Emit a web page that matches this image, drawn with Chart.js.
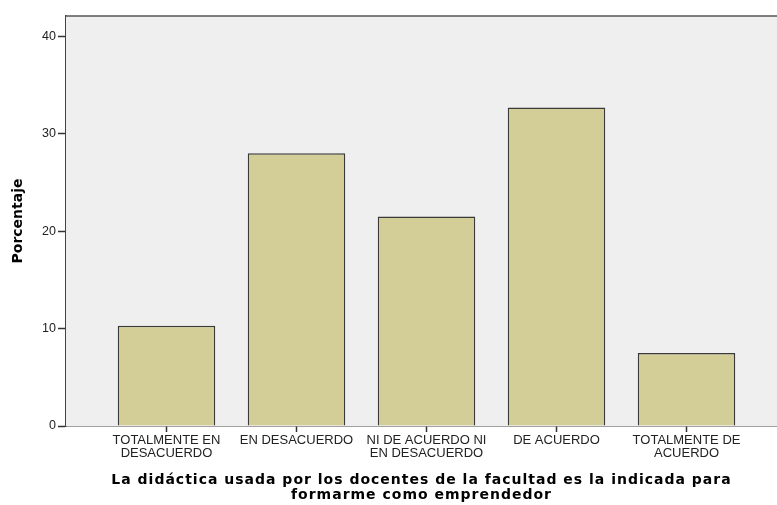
<!DOCTYPE html>
<html>
<head>
<meta charset="utf-8">
<script src="https://cdn.jsdelivr.net/npm/chart.js@4"></script>
<style>
  body { margin: 0; background: #fff; }
  #chart { display: block; }
</style>
</head>
<body>
<canvas id="chart" width="777" height="505"></canvas>
<script>
const categories = [
  ["TOTALMENTE EN", "DESACUERDO"],
  ["EN DESACUERDO"],
  ["NI DE ACUERDO NI", "EN DESACUERDO"],
  ["DE ACUERDO"],
  ["TOTALMENTE DE", "ACUERDO"]
];
const percentages = [10.3, 28.0, 21.5, 32.7, 7.5];
const yTicks = [0, 10, 20, 30, 40];
const xTitle = ["La didáctica usada por los docentes de la facultad es la indicada para", "formarme como emprendedor"];
const yTitle = "Porcentaje";

// plot background + top frame line
const frame = {
  id: "frame",
  beforeDatasetsDraw(chart) {
    const { ctx, chartArea: a } = chart;
    ctx.save();
    ctx.fillStyle = "#efefef";
    ctx.fillRect(a.left, a.top, a.right - a.left, a.bottom - a.top);
    ctx.strokeStyle = "#555";
    ctx.lineWidth = 1.5;
    ctx.beginPath();
    ctx.moveTo(a.left, a.top);
    ctx.lineTo(a.right, a.top);
    ctx.stroke();
    ctx.restore();
  }
};

// the x title in the original is letter-spaced
function spacedTitle(scale) {
  if (scale._spaced) return;
  const orig = scale.drawTitle.bind(scale);
  scale.drawTitle = function () {
    scale.ctx.save();
    scale.ctx.letterSpacing = "1px";
    orig();
    scale.ctx.restore();
  };
  scale._spaced = true;
}

new Chart(document.getElementById("chart"), {
  type: "bar",
  data: {
    datasets: [{
      data: percentages.map((v, i) => ({ x: i, y: v })),
      backgroundColor: "#d3ce97",
      borderColor: "#3a3a3a",
      borderWidth: 1.5,
      barPercentage: 0.75,
      categoryPercentage: 1
    }]
  },
  options: {
    responsive: false,
    animation: false,
    layout: { padding: { top: 16, left: 0, right: 0, bottom: 0 } },
    plugins: { legend: { display: false }, tooltip: { enabled: false } },
    scales: {
      x: {
        type: "linear",
        offset: false,
        min: -0.773,
        max: 4.696,
        afterBuildTicks: (s) => { s.ticks = categories.map((c, i) => ({ value: i })); },
        afterFit: (s) => { s.height = 79; },
        afterUpdate: spacedTitle,
        grid: { offset: false, drawOnChartArea: false, drawTicks: true, tickLength: 6, tickColor: "#333", tickWidth: 1.5 },
        border: { display: true, color: "#444", width: 1.5 },
        ticks: {
          autoSkip: false,
          maxRotation: 0,
          padding: 2,
          color: "#222",
          font: { family: "Liberation Sans", size: 13, lineHeight: 1.0 },
          callback: (v) => categories[v]
        },
        title: {
          display: true,
          text: xTitle,
          color: "#000",
          padding: { top: 0, bottom: 1.9 },
          font: { family: "DejaVu Sans", weight: "bold", size: 14, lineHeight: 1.1 }
        }
      },
      y: {
        min: 0,
        max: 42.1,
        afterBuildTicks: (s) => { s.ticks = yTicks.map(v => ({ value: v })); },
        afterFit: (s) => { s.width = 66; },
        grid: { drawOnChartArea: false, drawTicks: true, tickLength: 8, tickColor: "#333", tickWidth: 1.5 },
        border: { display: true, color: "#444", width: 1.5 },
        ticks: {
          padding: 2,
          color: "#222",
          font: { family: "Liberation Sans", size: 12.5 }
        },
        title: {
          display: true,
          text: yTitle,
          color: "#000",
          padding: { top: 10, bottom: 0 },
          font: { family: "DejaVu Sans", weight: "bold", size: 14, lineHeight: 1.15 }
        }
      }
    }
  },
  plugins: [frame]
});
</script>
</body>
</html>
